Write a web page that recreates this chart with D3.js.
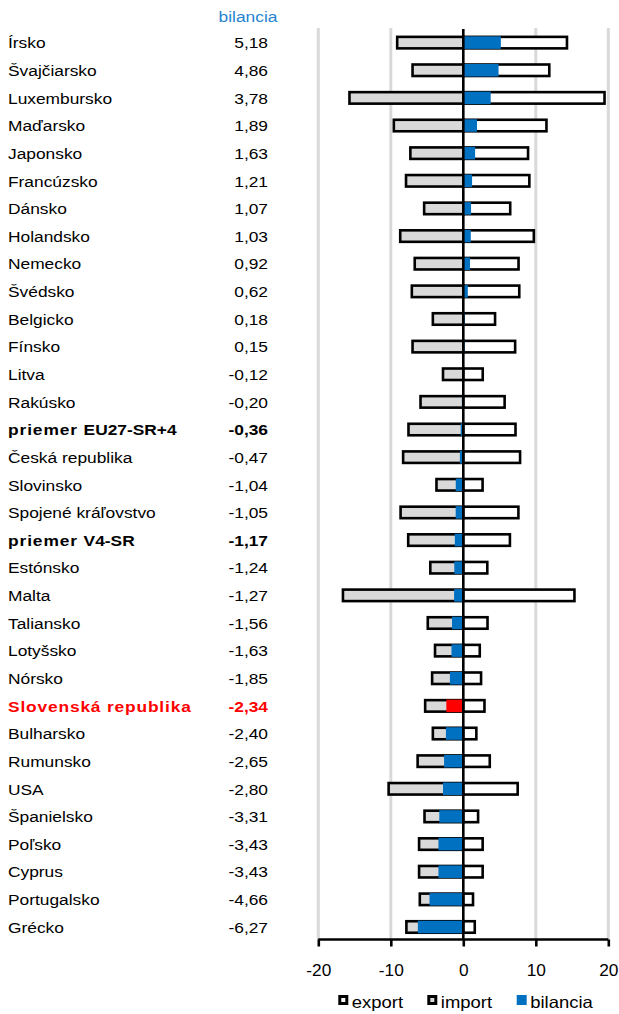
<!DOCTYPE html>
<html>
<head>
<meta charset="utf-8">
<script src="https://cdn.jsdelivr.net/npm/d3@7"></script>
<style>
  html, body { margin: 0; padding: 0; background: #fff; }
  svg { display: block; font-family: "Liberation Sans", Arial, sans-serif; }
</style>
</head>
<body>
<svg id="chart" width="619" height="1014"></svg>
<script>
// Countries / groups, top to bottom
const categories = [
  "Írsko", "Švajčiarsko", "Luxembursko", "Maďarsko", "Japonsko", "Francúzsko",
  "Dánsko", "Holandsko", "Nemecko", "Švédsko", "Belgicko", "Fínsko", "Litva",
  "Rakúsko", "priemer EU27-SR+4", "Česká republika", "Slovinsko",
  "Spojené kráľovstvo", "priemer V4-SR", "Estónsko", "Malta", "Taliansko",
  "Lotyšsko", "Nórsko", "Slovenská republika", "Bulharsko", "Rumunsko", "USA",
  "Španielsko", "Poľsko", "Cyprus", "Portugalsko", "Grécko"
];

// export (positive side)
const exportValues = [
  14.3, 11.86, 19.48, 11.47, 8.93, 9.11,
  6.47, 9.73, 7.62, 7.72, 4.38, 7.15, 2.68,
  5.7, 7.2, 7.83, 2.66,
  7.6, 6.43, 3.31, 15.33, 3.34,
  2.27, 2.45, 2.92, 1.80, 3.65, 7.5,
  2.04, 2.67, 2.67, 1.34, 1.58
];

// import (drawn on the negative side)
const importValues = [
  9.12, 7.0, 15.7, 9.58, 7.3, 7.9,
  5.4, 8.7, 6.7, 7.1, 4.2, 7.0, 2.8,
  5.9, 7.56, 8.3, 3.7,
  8.65, 7.6, 4.55, 16.6, 4.9,
  3.9, 4.3, 5.26, 4.2, 6.3, 10.3,
  5.35, 6.1, 6.1, 6.0, 7.85
];

// bilancia = export - import
const balance = [
  5.18, 4.86, 3.78, 1.89, 1.63, 1.21,
  1.07, 1.03, 0.92, 0.62, 0.18, 0.15, -0.12,
  -0.20, -0.36, -0.47, -1.04,
  -1.05, -1.17, -1.24, -1.27, -1.56,
  -1.63, -1.85, -2.34, -2.40, -2.65, -2.80,
  -3.31, -3.43, -3.43, -4.66, -6.27
];

const xTicks = [-20, -10, 0, 10, 20];
const legendLabels = ["export", "import", "bilancia"];

const svg = d3.select("#chart");

const x = d3.scaleLinear().domain([-20, 20]).range([318.3, 608.3]);
const y = d3.scaleBand().domain(categories).range([28, 940]).padding(0);

const barH = 11.5;
const balH = 12.5;
const SX = 1.12;   // horizontal stretch of the label font
const fmt = v => d3.format(".2f")(v).replace(".", ",").replace("−", "-");

const rows = categories.map((c, i) => ({
  name: c, exp: exportValues[i], imp: importValues[i], bal: balance[i]
}));

const isAvg = d => d.name.startsWith("priemer");
const isSK = d => d.name === "Slovenská republika";
const cy = d => y(d.name) + y.bandwidth() / 2;

// vertical gridlines
svg.append("g").selectAll("line")
  .data(xTicks.filter(t => t !== 0))
  .join("line")
  .attr("x1", d => x(d)).attr("x2", d => x(d))
  .attr("y1", 28).attr("y2", 940)
  .attr("stroke", "#d9d9d9").attr("stroke-width", 3);

// import bars
svg.append("g").selectAll("rect")
  .data(rows).join("rect")
  .attr("x", d => x(-d.imp))
  .attr("width", d => x(0) - x(-d.imp))
  .attr("y", d => cy(d) - barH / 2 + 0.8)
  .attr("height", barH)
  .attr("fill", "#d9d9d9").attr("stroke", "#000").attr("stroke-width", 2.6);

// export bars
svg.append("g").selectAll("rect")
  .data(rows).join("rect")
  .attr("x", x(0))
  .attr("width", d => x(d.exp) - x(0))
  .attr("y", d => cy(d) - barH / 2 + 0.8)
  .attr("height", barH)
  .attr("fill", "#fff").attr("stroke", "#000").attr("stroke-width", 2.6);

// balance bars
svg.append("g").selectAll("rect")
  .data(rows).join("rect")
  .attr("x", d => x(Math.min(0, d.bal)))
  .attr("width", d => Math.abs(x(d.bal) - x(0)))
  .attr("y", d => cy(d) - balH / 2 + 0.8)
  .attr("height", balH)
  .attr("fill", d => isSK(d) ? "#ff0000" : "#0070c0");

// zero line
svg.append("line")
  .attr("x1", x(0)).attr("x2", x(0))
  .attr("y1", 29).attr("y2", 940)
  .attr("stroke", "#000").attr("stroke-width", 2.6);

// x axis
const axis = svg.append("g").attr("transform", "translate(0,939.5)")
  .call(d3.axisBottom(x).tickValues(xTicks).tickSize(7).tickPadding(12)
    .tickFormat(d => d < 0 ? "-" + Math.abs(d) : String(d)));
axis.select(".domain").attr("stroke", "#000").attr("stroke-width", 2.6)
  .attr("d", `M${x(-20)},0H${x(20)}`);
axis.selectAll(".tick line").attr("stroke", "#000").attr("stroke-width", 2.6);
axis.selectAll(".tick text")
  .attr("fill", "#000").attr("font-size", 16)
  .attr("font-family", "Liberation Sans, Arial, sans-serif")
  .attr("y", 0).attr("dy", null)
  .attr("transform", "translate(0,36.5) scale(1.08,1)");

// text placed at (px, py), stretched horizontally around its anchor
function stretchedText(parent, px, py, scale) {
  return parent.append("g")
    .attr("transform", `translate(${px},${py}) scale(${scale},1)`)
    .append("text").attr("x", 0).attr("y", 0);
}

// header
stretchedText(svg, 248, 21.5, SX)
  .attr("text-anchor", "middle")
  .attr("font-size", 15.5).attr("fill", "#2683d0")
  .text("bilancia");

// category labels and balance values
const labelLayer = svg.append("g");
rows.forEach(d => {
  const bold = isAvg(d) || isSK(d);
  const color = isSK(d) ? "#ff0000" : "#000";
  const t = stretchedText(labelLayer, 8, cy(d) + 6.5, SX)
    .attr("font-size", 15.5)
    .attr("font-weight", bold ? "bold" : "normal")
    .attr("fill", color);
  if (isAvg(d)) {
    const [first, ...rest] = d.name.split(" ");
    t.append("tspan").attr("letter-spacing", 0.8).text(first + " ");
    t.append("tspan").text(rest.join(" "));
  } else if (isSK(d)) {
    t.attr("letter-spacing", 0.75).text(d.name);
  } else {
    t.text(d.name);
  }
  stretchedText(labelLayer, 268, cy(d) + 6.5, SX)
    .attr("text-anchor", "end")
    .attr("font-size", 15.5)
    .attr("font-weight", bold ? "bold" : "normal")
    .attr("fill", color)
    .text(fmt(d.bal));
});

// legend
const legend = svg.append("g");
const legendPos = [338.3, 427.3, 516.7];
const legendFill = ["#fff", "#d9d9d9", "#0070c0"];
legendLabels.forEach((lab, i) => {
  const g = legend.append("g").attr("transform", `translate(${legendPos[i]},995)`);
  if (i < 2) {
    g.append("rect").attr("x", 1.5).attr("y", 1.5).attr("width", 7).attr("height", 7)
      .attr("fill", legendFill[i]).attr("stroke", "#000").attr("stroke-width", 3);
  } else {
    g.append("rect").attr("x", 0).attr("y", 0).attr("width", 10).attr("height", 10)
      .attr("fill", legendFill[i]);
  }
  stretchedText(g, 13.5, 12.7, 1.12)
    .attr("font-size", 16.5).attr("fill", "#000").text(lab);
});
</script>
</body>
</html>
